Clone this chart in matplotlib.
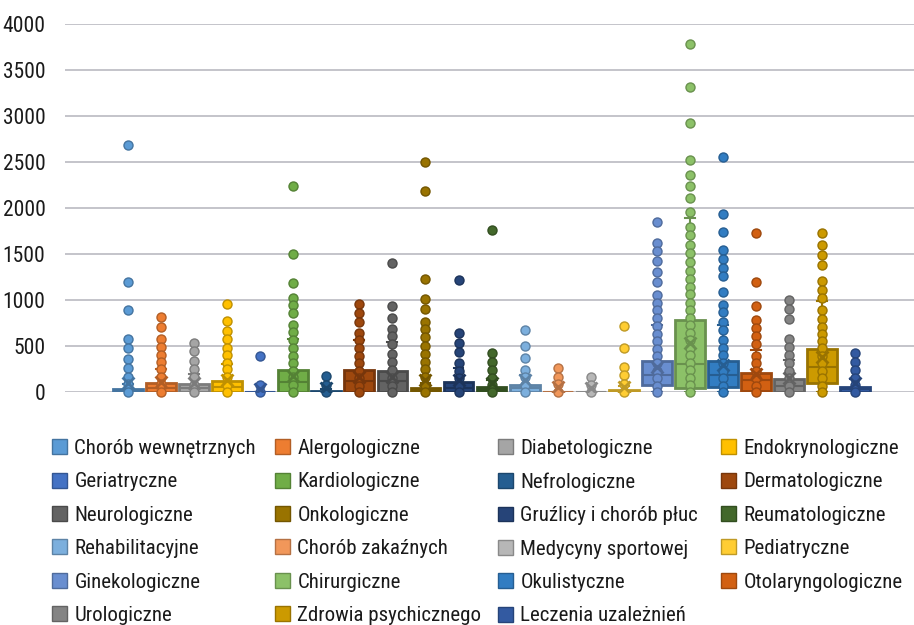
import numpy as np
import matplotlib.pyplot as plt
from matplotlib import font_manager as fm
from matplotlib.patches import Patch
from matplotlib.colors import to_rgb

# narrow sans font like the original (Arial Narrow), first one that is installed
installed = {f.name for f in fm.fontManager.ttflist}
narrow = 'DejaVu Sans'
for cand in ['Liberation Sans Narrow', 'Arial Narrow', 'Roboto Condensed', 'PT Sans Narrow',
             'Archivo Narrow', 'Fira Sans Condensed', 'IBM Plex Sans Condensed',
             'Encode Sans Condensed', 'Barlow Semi Condensed']:
    if cand in installed:
        narrow = cand
        break
plt.rcParams['font.family'] = [narrow, 'DejaVu Sans']

# departments, in plotting order
departments = ["Chorób wewnętrznych", "Alergologiczne", "Diabetologiczne", "Endokrynologiczne",
               "Geriatryczne", "Kardiologiczne", "Nefrologiczne", "Dermatologiczne",
               "Neurologiczne", "Onkologiczne", "Gruźlicy i chorób płuc", "Reumatologiczne",
               "Rehabilitacyjne", "Chorób zakaźnych", "Medycyny sportowej", "Pediatryczne",
               "Ginekologiczne", "Chirurgiczne", "Okulistyczne", "Otolaryngologiczne",
               "Urologiczne", "Zdrowia psychicznego", "Leczenia uzależnień"]

colors = ["#5B9BD5", "#ED7D31", "#A5A5A5", "#FFC000", "#4472C4", "#70AD47",
          "#255E91", "#9E480E", "#636363", "#997300", "#264478", "#43682B",
          "#7CAFDD", "#F1975A", "#B7B7B7", "#FFCD33", "#698ED0", "#8CC168",
          "#327DC2", "#D26012", "#848484", "#CC9A00", "#335AA1"]

# box statistics
q1 = [0, 0, 0, 0, 0, 0, 0, 0, 0, 0, 0, 0, 0, 0, 0, 0, 76, 40, 58, 14, 0, 94, 0]
medians = [10, 40, 40, 50, 0, 110, 0, 116, 116, 10, 40, 20, 40, 0, 0, 0, 181, 301, 181, 130, 65, 275, 30]
q3 = [35, 101, 84, 120, 0, 239, 15, 236, 228, 40, 105, 51, 76, 0, 0, 25, 340, 783, 340, 210, 141, 467, 58]
means = [100, 110, 95, 130, 30, 170, 40, 166, 166, 130, 130, 95, 130, 55, 40, 58, 275, 530, 293, 200, 150, 384, 100]
whisk_hi = [87, 250, 200, 300, 0, 580, 30, 560, 540, 100, 260, 127, 190, 0, 0, 60, 730, 1888, 730, 457, 350, 989, 145]
whisk_lo = [0] * 23

# individual points (inner points + outliers)
points = [
    [2680, 1199, 888, 576, 482, 359, 257, 163, 87, 0],
    [812, 710, 576, 486, 402, 323, 247, 166, 87, 0],
    [536, 449, 340, 247, 160, 76, 0],
    [953, 772, 666, 573, 482, 402, 319, 247, 160, 76, 0],
    [395, 76, 0],
    [2239, 1495, 1190, 1025, 942, 859, 725, 649, 562, 475, 390, 312, 232, 160, 80, 0],
    [177, 76, 0],
    [953, 855, 764, 645, 562, 475, 391, 312, 228, 149, 65, 0],
    [1399, 931, 804, 685, 608, 525, 413, 323, 236, 149, 65, 0],
    [2503, 2185, 1225, 1008, 900, 764, 683, 601, 500, 415, 326, 245, 160, 80, 0],
    [1217, 636, 538, 431, 312, 232, 150, 69, 0],
    [1761, 420, 323, 236, 155, 76, 0],
    [678, 500, 373, 239, 158, 80, 0],
    [257, 166, 87, 0],
    [160, 76, 0],
    [721, 482, 275, 190, 90, 0],
    [1848, 1620, 1536, 1427, 1308, 1199, 1058, 971, 888, 808, 717, 634, 554, 471, 391, 312, 228, 149, 69, 0],
    [3783, 3315, 2924, 2525, 2355, 2239, 2105, 1960, 1797, 1703, 1598, 1508, 1413, 1315, 1225, 1138,
     1062, 971, 891, 808, 725, 645, 565, 482, 402, 319, 239, 155, 76, 0],
    [2551, 1932, 1736, 1540, 1442, 1351, 1257, 1087, 946, 866, 764, 674, 562, 482, 399, 312, 232, 149, 69, 0],
    [1725, 1196, 931, 783, 692, 609, 518, 395, 312, 228, 149, 69, 0],
    [1000, 902, 790, 573, 486, 399, 312, 232, 149, 69, 0],
    [1725, 1595, 1486, 1380, 1207, 1109, 1025, 888, 793, 710, 630, 554, 475, 391, 312, 232, 149, 69, 0],
    [420, 329, 239, 155, 76, 0],
]

y_ticks = [0, 500, 1000, 1500, 2000, 2500, 3000, 3500, 4000]


def darker(c, f=0.75):
    r, g, b = to_rgb(c)
    return (r * f, g * f, b * f)


fig = plt.figure(figsize=(9.14, 6.25), dpi=100)
ax = fig.add_axes([65 / 914, 1 - 392 / 625, 849 / 914, 368 / 625])

stats = []
for i in range(len(departments)):
    stats.append(dict(med=medians[i], q1=q1[i], q3=q3[i], whislo=whisk_lo[i],
                      whishi=whisk_hi[i], mean=means[i], fliers=[]))

pos = np.arange(len(departments))
bp = ax.bxp(stats, positions=pos, widths=0.9, capwidths=0.3, patch_artist=True,
            showmeans=True, showfliers=False, zorder=2,
            meanprops=dict(marker='x', markersize=9, markeredgewidth=2))

for i, c in enumerate(colors):
    dc = darker(c)
    bp['boxes'][i].set_facecolor(c)
    bp['boxes'][i].set_edgecolor(dc)
    bp['boxes'][i].set_linewidth(2)
    bp['medians'][i].set_color(dc)
    bp['medians'][i].set_linewidth(1.5)
    for ln in bp['whiskers'][2 * i:2 * i + 2] + bp['caps'][2 * i:2 * i + 2]:
        ln.set_color(dc)
        ln.set_linewidth(1.5)
    m = bp['means'][i]
    m.set_markeredgecolor(dc)
    m.set_markerfacecolor(dc)
    m.set_zorder(4)
    ax.plot(np.full(len(points[i]), pos[i]), points[i], 'o', ms=6.5, mfc=c, mec=dc,
            mew=1, zorder=3, clip_on=False)

ax.set_xlim(-1.906, 23.78)
ax.set_ylim(0, 4000)
ax.set_yticks(y_ticks)
ax.set_xticks([])
ax.tick_params(axis='y', length=0, pad=14, labelsize=15.5, labelcolor='#1a1a1a')
for s in ax.spines.values():
    s.set_visible(False)
ax.grid(axis='y', color='#C4C4CA', linewidth=1.4, zorder=0)
ax.set_axisbelow(True)

# legend: four equal-width columns, filled row by row
handles = [Patch(facecolor=c, edgecolor=darker(c)) for c in colors]
col_x = [52, 275, 498, 721]
for k in range(4):
    idx = list(range(k, len(departments), 4))
    fig.legend([handles[j] for j in idx], [departments[j] for j in idx],
               loc='upper left', bbox_to_anchor=(col_x[k] / 914, 1 - 439 / 625),
               frameon=False, borderpad=0, borderaxespad=0, fontsize=15,
               handlelength=0.72, handleheight=0.72, handletextpad=0.35,
               labelspacing=0.69, labelcolor='#1a1a1a')

fig.savefig('out.png', dpi=100)
